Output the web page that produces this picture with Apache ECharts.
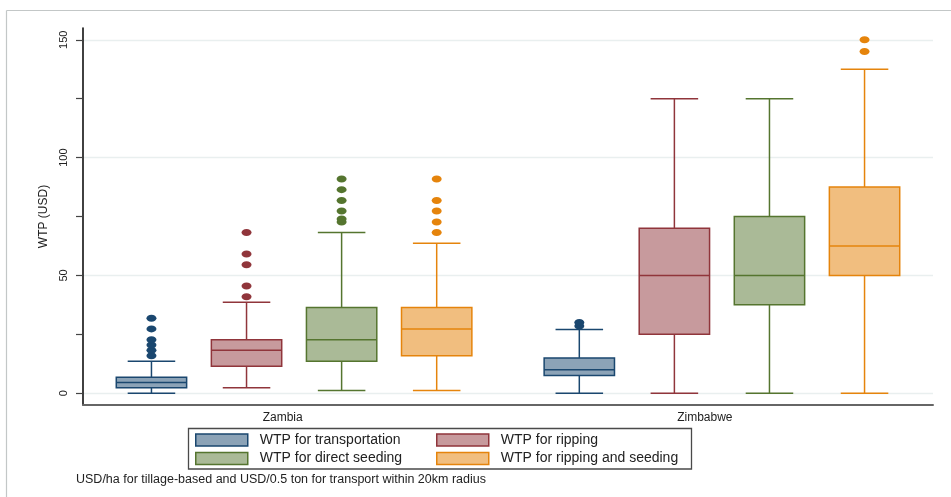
<!DOCTYPE html>
<html>
<head>
<meta charset="utf-8">
<title>WTP by country</title>
<script src="https://cdn.jsdelivr.net/npm/echarts@6/dist/echarts.min.js"></script>
<style>
  html, body { margin: 0; padding: 0; background: #fff; }
  #chart { width: 951px; height: 497px; }
</style>
</head>
<body>
<div id="chart"></div>
<script>
// ---- data ----
const categories = ['Zambia', 'Zimbabwe'];
const seriesNames = [
  'WTP for transportation',
  'WTP for ripping',
  'WTP for direct seeding',
  'WTP for ripping and seeding'
];
// [lower whisker, Q1, median, Q3, upper whisker] per country
const transportStats = [[0, 2.27, 4.55, 6.82, 13.6], [0, 7.5, 10, 15, 27]];
const rippingStats   = [[2.27, 11.4, 18.2, 22.7, 38.6], [0, 25, 50, 70, 125]];
const seedingStats   = [[1.14, 13.6, 22.7, 36.4, 68.2], [0, 37.5, 50, 75, 125]];
const ripSeedStats   = [[1.14, 15.9, 27.3, 36.4, 63.6], [0, 50, 62.5, 87.5, 137.5]];
// outside values per country
const transportOutliers = [[15.9, 18.2, 20.5, 22.7, 27.3, 31.8], [28.5, 30]];
const rippingOutliers   = [[40.9, 45.5, 54.5, 59.1, 68.2], []];
const seedingOutliers   = [[72.7, 73.9, 77.3, 81.8, 86.4, 90.9], []];
const ripSeedOutliers   = [[68.2, 72.7, 77.3, 81.8, 90.9], [145, 150]];
// y axis ticks and labels
const yTickValues  = [0, 25, 50, 75, 100, 125, 150];
const yLabelValues = [0, 50, 100, 150];
const footnote = 'USD/ha for tillage-based and USD/0.5 ton for transport within 20km radius';

// ---- layout & style ----
const FONT = '"Liberation Sans", Arial, Helvetica, sans-serif';
const GROUP_CENTER = [2.5, 7];           // x-axis units
const BOX_OFFSET = [-1.5, -0.5, 0.5, 1.5];
const LABEL_POS = [2.38, 6.82];
const BOX_W = 0.74;
const CAP_W = 0.5;
const LINE_COLORS = ['#1a476f', '#90353b', '#55752f', '#e5840c'];
const FILL_COLORS = ['#8ca3b7', '#c79a9d', '#aaba97', '#f1be7f'];

const statsList = [transportStats, rippingStats, seedingStats, ripSeedStats];
const outlierList = [transportOutliers, rippingOutliers, seedingOutliers, ripSeedOutliers];

function boxRenderer(k) {
  return function (params, api) {
    const x = api.value(0);
    const pLo = api.coord([x, api.value(1)]);
    const pQ1 = api.coord([x, api.value(2)]);
    const pMed = api.coord([x, api.value(3)]);
    const pQ3 = api.coord([x, api.value(4)]);
    const pHi = api.coord([x, api.value(5)]);
    const cx = pLo[0];
    const bw = api.size([BOX_W, 0])[0];
    const cw = api.size([CAP_W, 0])[0];
    const stroke = { stroke: LINE_COLORS[k], lineWidth: 1.5, fill: null };
    return {
      type: 'group',
      children: [
        { type: 'line', shape: { x1: cx, y1: pLo[1], x2: cx, y2: pQ1[1] }, style: stroke },
        { type: 'line', shape: { x1: cx, y1: pQ3[1], x2: cx, y2: pHi[1] }, style: stroke },
        { type: 'line', shape: { x1: cx - cw / 2, y1: pLo[1], x2: cx + cw / 2, y2: pLo[1] }, style: stroke },
        { type: 'line', shape: { x1: cx - cw / 2, y1: pHi[1], x2: cx + cw / 2, y2: pHi[1] }, style: stroke },
        {
          type: 'rect',
          shape: { x: cx - bw / 2, y: pQ3[1], width: bw, height: pQ1[1] - pQ3[1] },
          style: { fill: FILL_COLORS[k], stroke: LINE_COLORS[k], lineWidth: 1.5 }
        },
        { type: 'line', shape: { x1: cx - bw / 2, y1: pMed[1], x2: cx + bw / 2, y2: pMed[1] }, style: stroke }
      ]
    };
  };
}

const series = [];
statsList.forEach(function (stats, k) {
  series.push({
    name: seriesNames[k],
    type: 'custom',
    renderItem: boxRenderer(k),
    itemStyle: { color: FILL_COLORS[k], borderColor: LINE_COLORS[k], borderWidth: 1.5 },
    encode: { x: 0, y: [1, 2, 3, 4, 5] },
    data: stats.map(function (s, g) { return [GROUP_CENTER[g] + BOX_OFFSET[k]].concat(s); }),
    z: 2
  });
});
outlierList.forEach(function (outs, k) {
  const pts = [];
  outs.forEach(function (vals, g) {
    vals.forEach(function (v) { pts.push([GROUP_CENTER[g] + BOX_OFFSET[k], v]); });
  });
  series.push({
    name: seriesNames[k] + ' (outside values)',
    type: 'scatter',
    symbol: 'circle',
    symbolSize: [10, 7],
    itemStyle: { color: LINE_COLORS[k], opacity: 1 },
    data: pts,
    z: 3
  });
});

const legendCommon = {
  orient: 'vertical',
  icon: 'rect',
  itemWidth: 52,
  itemHeight: 12,
  itemGap: 2.6,
  padding: 0,
  selectedMode: false,
  itemStyle: { borderWidth: 1.5 },
  textStyle: { fontFamily: FONT, fontSize: 14, color: '#222', lineHeight: 16, padding: [0, 0, 0, 7] }
};

const chart = echarts.init(document.getElementById('chart'), null, { renderer: 'canvas' });
chart.setOption({
  animation: false,
  backgroundColor: '#fff',
  textStyle: { fontFamily: FONT },
  grid: { left: 83, right: 18, top: 28, bottom: 92, outerBoundsMode: 'none', containLabel: false },
  xAxis: {
    type: 'value',
    min: 0.28,
    max: 9.22,
    axisLine: { show: true, onZero: false, lineStyle: { color: '#666', width: 2 } },
    axisTick: { show: false },
    splitLine: { show: false },
    axisLabel: {
      customValues: LABEL_POS,
      formatter: function (v) {
        let best = 0;
        LABEL_POS.forEach(function (p, i) { if (Math.abs(p - v) < Math.abs(LABEL_POS[best] - v)) best = i; });
        return categories[best];
      },
      fontFamily: FONT, fontSize: 12, color: '#222', margin: 7
    }
  },
  yAxis: [{
    type: 'value',
    min: -5,
    max: 155,
    name: 'WTP (USD)',
    nameLocation: 'middle',
    nameGap: 31,
    nameTextStyle: { fontFamily: FONT, fontSize: 12, color: '#222' },
    axisLine: { show: true, lineStyle: { color: '#111', width: 1.6 } },
    axisTick: { show: true, length: 7, customValues: yTickValues, lineStyle: { color: '#444', width: 1.2 } },
    axisLabel: { customValues: yLabelValues, rotate: 90, fontFamily: FONT, fontSize: 11, color: '#222', margin: 14 },
    splitLine: { show: false }
  }, {
    type: 'value',
    min: -5,
    max: 155,
    position: 'left',
    axisLine: { show: false },
    axisTick: { show: false, customValues: yLabelValues },
    axisLabel: { show: false },
    splitLine: { show: true, lineStyle: { color: '#e9efef', width: 1.3 } }
  }],
  legend: [
    Object.assign({}, legendCommon, { left: 195, top: 432, data: [seriesNames[0], seriesNames[2]] }),
    Object.assign({}, legendCommon, { left: 436, top: 432, data: [seriesNames[1], seriesNames[3]] })
  ],
  graphic: [
    { type: 'line', shape: { x1: 6.5, y1: 10.5, x2: 951, y2: 10.5 }, style: { stroke: '#c3c7c7', lineWidth: 1.2 }, silent: true },
    { type: 'line', shape: { x1: 6.5, y1: 10.5, x2: 6.5, y2: 497 }, style: { stroke: '#c3c7c7', lineWidth: 1.2 }, silent: true },
    { type: 'rect', shape: { x: 188.5, y: 428.5, width: 503, height: 40.5 }, style: { fill: null, stroke: '#4a4a4a', lineWidth: 1.3 }, silent: true },
    { type: 'text', x: 76, y: 480, style: { text: footnote, fontFamily: FONT, fontSize: 12.5, fill: '#222', verticalAlign: 'middle' }, silent: true }
  ],
  series: series
});
</script>
</body>
</html>
